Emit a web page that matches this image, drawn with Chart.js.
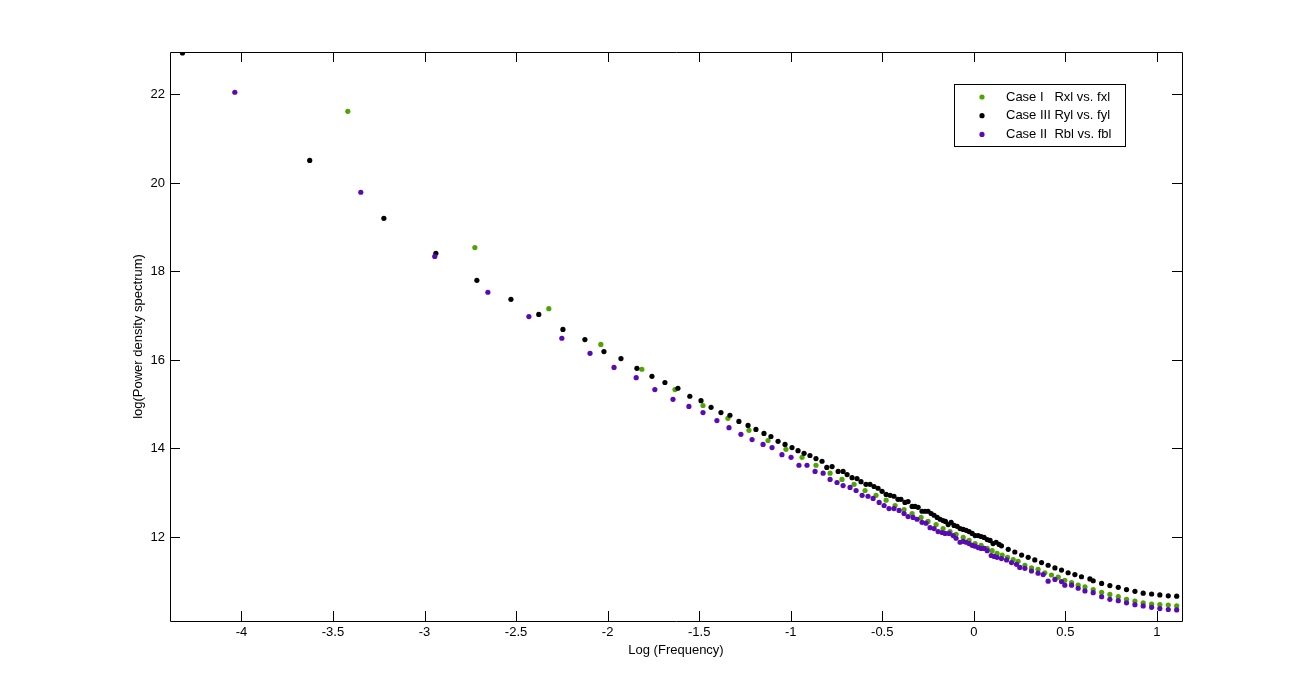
<!DOCTYPE html>
<html>
<head>
<meta charset="utf-8">
<script src="https://cdn.jsdelivr.net/npm/chart.js@4.4.1/dist/chart.umd.min.js"></script>
<style>
    html, body { margin: 0; padding: 0; background: #fff; }
    #wrap { width: 1305px; height: 698px; }
</style>
</head>
<body>
<div id="wrap"><canvas id="psdChart" width="1305" height="698"></canvas></div>
<script>
// axis ticks
const xTicks = [-4, -3.5, -3, -2.5, -2, -1.5, -1, -0.5, 0, 0.5, 1];
const yTicks = [12, 14, 16, 18, 20, 22];

// Case I  (green)
const case1X = [-3.419, -2.725, -2.321, -2.037, -1.813, -1.632, -1.479, -1.343, -1.228, -1.124,
    -1.026, -0.938, -0.862, -0.785, -0.720, -0.654, -0.594, -0.534, -0.479, -0.430,
    -0.381, -0.337, -0.288, -0.250, -0.206, -0.168, -0.130, -0.097, -0.058, -0.026,
    0.007, 0.040, 0.073, 0.100, 0.127, 0.155, 0.184, 0.215, 0.242, 0.279,
    0.315, 0.351, 0.388, 0.424, 0.461, 0.497, 0.534, 0.570, 0.607, 0.652,
    0.698, 0.743, 0.789, 0.834, 0.880, 0.925, 0.971, 1.016, 1.062, 1.108];
const case1Y = [21.62, 18.54, 17.16, 16.35, 15.79, 15.33, 14.97, 14.68, 14.41, 14.18,
    13.98, 13.80, 13.62, 13.44, 13.30, 13.19, 13.05, 12.94, 12.83, 12.71,
    12.62, 12.53, 12.44, 12.35, 12.28, 12.19, 12.12, 12.06, 11.99, 11.92,
    11.85, 11.81, 11.74, 11.69, 11.63, 11.59, 11.54, 11.49, 11.45, 11.36,
    11.30, 11.27, 11.19, 11.14, 11.09, 11.02, 10.97, 10.91, 10.87, 10.81,
    10.75, 10.70, 10.65, 10.59, 10.55, 10.51, 10.48, 10.47, 10.46, 10.44];

// Case III (black)
const case3X = [-4.322, -3.627, -3.222, -2.938, -2.714, -2.528, -2.376, -2.244, -2.124, -2.020,
    -1.927, -1.840, -1.758, -1.687, -1.616, -1.551, -1.490, -1.435, -1.381, -1.332,
    -1.283, -1.233, -1.190, -1.146, -1.108, -1.069, -1.031, -0.993, -0.960, -0.927,
    -0.895, -0.862, -0.829, -0.803, -0.774, -0.741, -0.714, -0.692, -0.665, -0.638,
    -0.616, -0.589, -0.567, -0.545, -0.523, -0.501, -0.479, -0.457, -0.436, -0.414,
    -0.398, -0.376, -0.359, -0.337, -0.321, -0.304, -0.283, -0.266, -0.250, -0.233,
    -0.217, -0.200, -0.184, -0.168, -0.155, -0.140, -0.124, -0.108, -0.091, -0.075,
    -0.058, -0.042, -0.026, -0.009, 0.007, 0.024, 0.040, 0.056, 0.073, 0.089,
    0.105, 0.122, 0.138, 0.151, 0.188, 0.224, 0.261, 0.297, 0.333, 0.370,
    0.406, 0.443, 0.479, 0.515, 0.552, 0.588, 0.634, 0.652, 0.698, 0.743,
    0.789, 0.834, 0.880, 0.925, 0.971, 1.016, 1.062, 1.108];
const case3Y = [22.94, 20.51, 19.20, 18.41, 17.80, 17.37, 17.03, 16.69, 16.46, 16.19,
    16.03, 15.81, 15.63, 15.49, 15.36, 15.18, 15.08, 14.93, 14.81, 14.75,
    14.61, 14.52, 14.43, 14.34, 14.27, 14.16, 14.09, 14.02, 13.95, 13.89,
    13.84, 13.77, 13.71, 13.57, 13.59, 13.48, 13.48, 13.41, 13.34, 13.32,
    13.25, 13.19, 13.19, 13.14, 13.10, 13.03, 12.96, 12.94, 12.92, 12.85,
    12.85, 12.78, 12.80, 12.69, 12.69, 12.67, 12.58, 12.58, 12.58, 12.53,
    12.49, 12.44, 12.40, 12.37, 12.35, 12.28, 12.33, 12.26, 12.24, 12.19,
    12.17, 12.15, 12.12, 12.08, 12.03, 12.03, 12.01, 11.99, 11.94, 11.92,
    11.85, 11.88, 11.83, 11.80, 11.72, 11.66, 11.59, 11.54, 11.48, 11.42,
    11.36, 11.30, 11.25, 11.19, 11.15, 11.10, 11.05, 11.01, 10.95, 10.90,
    10.86, 10.81, 10.77, 10.73, 10.71, 10.69, 10.67, 10.66];

// Case II (purple)
const case2X = [-4.036, -3.348, -2.944, -2.654, -2.430, -2.250, -2.096, -1.965, -1.844, -1.742,
    -1.643, -1.556, -1.479, -1.403, -1.337, -1.272, -1.211, -1.151, -1.102, -1.048,
    -0.998, -0.955, -0.911, -0.867, -0.823, -0.785, -0.747, -0.714, -0.676, -0.643,
    -0.610, -0.578, -0.550, -0.517, -0.490, -0.463, -0.436, -0.408, -0.381, -0.359,
    -0.332, -0.310, -0.283, -0.261, -0.239, -0.217, -0.195, -0.173, -0.157, -0.135,
    -0.113, -0.097, -0.075, -0.058, -0.042, -0.026, -0.009, 0.007, 0.024, 0.040,
    0.056, 0.073, 0.095, 0.111, 0.127, 0.151, 0.179, 0.206, 0.233, 0.251,
    0.279, 0.315, 0.351, 0.379, 0.406, 0.443, 0.479, 0.497, 0.534, 0.570,
    0.607, 0.652, 0.698, 0.743, 0.789, 0.834, 0.880, 0.925, 0.971, 1.016,
    1.062, 1.108];
const case2Y = [22.05, 19.79, 18.34, 17.53, 16.98, 16.49, 16.15, 15.83, 15.60, 15.33,
    15.11, 14.95, 14.81, 14.63, 14.47, 14.32, 14.20, 14.09, 14.02, 13.86,
    13.80, 13.62, 13.62, 13.48, 13.44, 13.30, 13.23, 13.16, 13.12, 13.05,
    12.94, 12.92, 12.87, 12.78, 12.71, 12.64, 12.64, 12.60, 12.53, 12.46,
    12.44, 12.40, 12.33, 12.31, 12.21, 12.19, 12.12, 12.10, 12.08, 12.08,
    12.03, 11.97, 11.88, 11.90, 11.88, 11.85, 11.81, 11.79, 11.76, 11.74,
    11.74, 11.69, 11.58, 11.56, 11.54, 11.51, 11.48, 11.42, 11.38, 11.31,
    11.29, 11.23, 11.18, 11.15, 11.00, 11.04, 10.99, 10.91, 10.91, 10.84,
    10.78, 10.74, 10.65, 10.59, 10.56, 10.51, 10.47, 10.44, 10.41, 10.38,
    10.36, 10.35];

const seriesLabels = ['Case I   Rxl vs. fxl', 'Case III Ryl vs. fyl', 'Case II  Rbl vs. fbl'];
const seriesColors = ['#4da600', '#000000', '#5a0ab4'];

const FONT = 'Arial, "Liberation Sans", sans-serif';

function zip(xs, ys) {
    return xs.map((x, i) => ({ x: x, y: ys[i] }));
}

function makeDataset(i, xs, ys, order) {
    return {
        label: seriesLabels[i],
        data: zip(xs, ys),
        showLine: false,
        pointStyle: 'circle',
        pointRadius: 2.6,
        pointHoverRadius: 2.6,
        pointBorderWidth: 0,
        pointBackgroundColor: seriesColors[i],
        backgroundColor: seriesColors[i],
        borderColor: seriesColors[i],
        order: order
    };
}

// MATLAB style box with inward ticks, axis titles and legend
const matlabFrame = {
    id: 'matlabFrame',
    afterDraw(chart) {
        const ctx = chart.ctx;
        const a = chart.chartArea;
        const xs = chart.scales.x, ys = chart.scales.y;
        const tl = 10;
        ctx.save();
        ctx.strokeStyle = '#000';
        ctx.lineWidth = 1;
        ctx.beginPath();
        ctx.rect(Math.round(a.left) + 0.5, Math.round(a.top) + 0.5,
                 Math.round(a.right - a.left), Math.round(a.bottom - a.top));
        xTicks.forEach(v => {
            const px = Math.round(xs.getPixelForValue(v)) + 0.5;
            ctx.moveTo(px, a.bottom); ctx.lineTo(px, a.bottom - tl);
            ctx.moveTo(px, a.top); ctx.lineTo(px, a.top + tl);
        });
        yTicks.forEach(v => {
            const py = Math.round(ys.getPixelForValue(v)) + 0.5;
            ctx.moveTo(a.left, py); ctx.lineTo(a.left + tl, py);
            ctx.moveTo(a.right, py); ctx.lineTo(a.right - tl, py);
        });
        ctx.stroke();

        // axis titles
        ctx.fillStyle = '#000';
        ctx.font = '13px ' + FONT;
        ctx.textAlign = 'center';
        ctx.textBaseline = 'middle';
        ctx.fillText('Log (Frequency)', (a.left + a.right) / 2, a.bottom + 29);
        ctx.save();
        ctx.translate(a.left - 32, (a.top + a.bottom) / 2);
        ctx.rotate(-Math.PI / 2);
        ctx.fillText('log(Power density spectrum)', 0, 0);
        ctx.restore();

        // legend
        const lx = 954, ly = 84, lw = 171, lh = 62;
        ctx.fillStyle = '#fff';
        ctx.fillRect(lx, ly, lw, lh);
        ctx.strokeRect(lx + 0.5, ly + 0.5, lw, lh);
        ctx.textAlign = 'left';
        chart.data.datasets.forEach((ds, i) => {
            const ry = ly + 13 + i * 18.7;
            ctx.fillStyle = ds.pointBackgroundColor;
            ctx.beginPath();
            ctx.arc(lx + 28, ry, 2.6, 0, Math.PI * 2);
            ctx.fill();
            ctx.fillStyle = '#000';
            ctx.fillText(ds.label, lx + 52, ry);
        });
        ctx.restore();
    }
};

document.addEventListener('DOMContentLoaded', function() {
    const ctx = document.getElementById('psdChart');
    new Chart(ctx, {
        type: 'scatter',
        data: {
            datasets: [
                makeDataset(0, case1X, case1Y, 3),
                makeDataset(1, case3X, case3Y, 2),
                makeDataset(2, case2X, case2Y, 1)
            ]
        },
        options: {
            responsive: false,
            animation: false,
            events: [],
            layout: {
                padding: { top: 52, right: 123, bottom: 0, left: 0 }
            },
            plugins: {
                legend: { display: false },
                tooltip: { enabled: false }
            },
            scales: {
                x: {
                    type: 'linear',
                    min: -4.39,
                    max: 1.137,
                    grid: { display: false, drawTicks: false },
                    border: { display: false },
                    afterBuildTicks: s => { s.ticks = xTicks.map(v => ({ value: v })); },
                    afterFit: s => { s.height = 77; },
                    ticks: {
                        padding: 4,
                        maxRotation: 0,
                        autoSkip: false,
                        color: '#000',
                        font: { family: FONT, size: 13 },
                        callback: v => String(v)
                    }
                },
                y: {
                    type: 'linear',
                    min: 10.1,
                    max: 22.96,
                    grid: { display: false, drawTicks: false },
                    border: { display: false },
                    afterBuildTicks: s => { s.ticks = yTicks.map(v => ({ value: v })); },
                    afterFit: s => { s.width = 170; },
                    ticks: {
                        padding: 5,
                        autoSkip: false,
                        color: '#000',
                        font: { family: FONT, size: 13 },
                        callback: v => String(v)
                    }
                }
            }
        },
        plugins: [matlabFrame]
    });
});
</script>
</body>
</html>
